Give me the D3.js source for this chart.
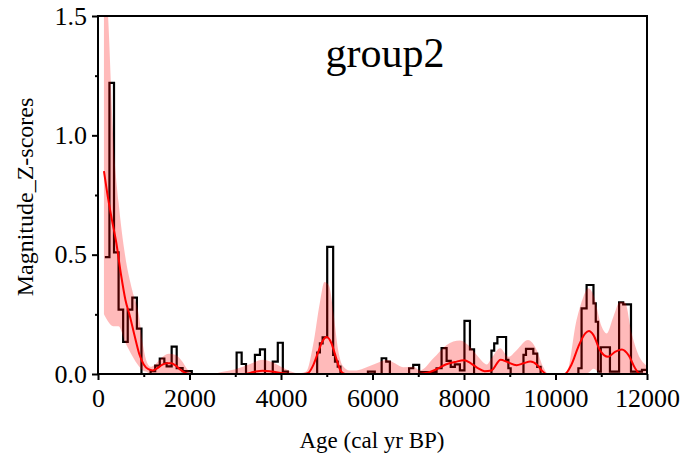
<!DOCTYPE html>
<html><head><meta charset="utf-8">
<script src="https://cdn.jsdelivr.net/npm/d3@7"></script>
<style>body{margin:0;background:#fff}svg{display:block}text{font-family:"Liberation Serif","Times New Roman",serif;fill:#000}</style>
</head><body>
<script>
// ---- data ----
const title = "group2";
const xLabel = "Age (cal yr BP)";
const yLabel = "Magnitude_Z-scores";
const xMajorTicks = [0, 2000, 4000, 6000, 8000, 10000, 12000];
const xMinorTicks = [1000, 3000, 5000, 7000, 9000, 11000];
const yMajorTicks = [0, 0.5, 1.0, 1.5];
const yMinorTicks = [0.25, 0.75, 1.25];

// histogram steps: bin left edge (yr) and value
const histEdges = [150,250,350,450,550,650,750,850,950,1150,1250,1350,1450,1500,1610,1720,1850,2050,
  3030,3140,3235,3430,3540,3650,3820,3930,4040,4150,
  4790,4850,4910,5010,5140,5180,5240,5300,
  5900,6050,6200,6300,6380,6800,6890,7020,7400,7510,7620,7710,7800,7910,8010,8130,8220,
  8600,8660,8730,8920,8970,9020,9300,9355,9515,9600,9675,
  10500,10570,10680,10830,10880,10930,10990,11190,11390,11480,11650,11890,12000];
const histValues = [0.49,1.22,0.51,0.27,0.135,0.27,0.32,0.19,0,0.012,0.035,0.065,0.045,0.032,0.115,0.025,0.012,0,
  0.09,0.042,0,0.08,0.103,0,0.052,0.131,0.01,0,
  0.09,0.128,0.154,0.533,0.08,0.052,0.031,0,
  0.01,0,0.066,0.052,0,0.024,0.038,0.008,0.024,0.108,0.055,0.03,0.04,0.015,0.223,0.103,0,
  0.098,0.128,0.155,0.059,0.024,0,0.08,0.105,0.085,0.03,0,
  0.024,0.275,0.373,0.296,0.219,0.01,0.112,0.01,0.3,0.292,0.01,0.017,0.017];

// smoothed curve
const curveAges = [130,200,300,400,500,600,700,800,900,1000,1100,1200,1300,1400,1500,1600,1700,1800,1900,2000,
  3200,3400,3600,3800,4000,4200,4500,4600,4700,4800,4900,5000,5100,5200,5300,5400,
  7000,7200,7400,7600,7800,8000,8150,8300,8450,8600,8800,8950,9150,9300,9450,9600,9700,9800,
  10200,10350,10500,10650,10730,10830,10970,11150,11300,11450,11600,11740,11850,12000];
const curveValues = [0.85,0.76,0.65,0.55,0.42,0.31,0.24,0.16,0.085,0.04,0.02,0.015,0.025,0.038,0.045,0.045,0.035,0.018,0.006,0,
  0,0.008,0.014,0.01,0.004,0,0,0.005,0.035,0.085,0.135,0.155,0.13,0.07,0.015,0,
  0,0.005,0.02,0.04,0.05,0.058,0.045,0.025,0.012,0.015,0.06,0.05,0.037,0.045,0.052,0.038,0.015,0,
  0,0.04,0.115,0.17,0.18,0.163,0.1,0.072,0.093,0.103,0.078,0.024,0,0];

// confidence band
const bandAges = [130,220,330,450,590,750,890,980,1050,1150,1250,1400,1550,1700,1850,1950,2100,2500,2700,3000,3300,3600,3800,4000,4200,4400,
  4550,4700,4850,4950,5050,5150,5250,5350,5500,5650,5870,6090,6310,6490,6670,6890,7040,7330,7620,7910,8130,8310,8500,8600,8790,8970,9150,9400,9590,9730,9850,
  10240,10460,10610,10720,10830,11010,11120,11265,11410,11520,11665,11850,11960,12000];
const bandUpper = [1.75,1.5,1.0,0.72,0.5,0.35,0.25,0.125,0.06,0.03,0.04,0.07,0.085,0.08,0.05,0.02,0.003,0,0.008,0.02,0.04,0.06,0.05,0.03,0.012,0.003,
  0.01,0.12,0.30,0.385,0.37,0.25,0.1,0.035,0.015,0.015,0.028,0.045,0.06,0.045,0.028,0.03,0.015,0.066,0.122,0.14,0.114,0.072,0.04,0.066,0.108,0.072,0.1,0.142,0.1,0.03,0,
  0.005,0.226,0.324,0.359,0.331,0.198,0.17,0.24,0.303,0.3,0.17,0.066,0.04,0.035];
const bandLower = [0.25,0.22,0.2,0.2,0.135,0.075,0.033,0.015,0.01,0,0,0,0,0,0,0,0,0,0,0,0,0,0,0,0,0,
  0,0,0,0,0,0,0,0,0,0,0,0,0,0,0,0,0,0,0,0,0,0,0,0,0,0,0,0,0,0,0,
  0,0,0,0.005,0.022,0,0,0,0,0,0,0,0,0];

// ---- drawing ----
const W = 692, H = 467;
const m = {left: 98, right: 647, top: 16, bottom: 374};
const x = d3.scaleLinear().domain([0, 12000]).range([m.left, m.right]);
const y = d3.scaleLinear().domain([0, 1.5]).range([m.bottom, m.top]);

const svg = d3.select("body").append("svg").attr("width", W).attr("height", H);
svg.append("defs").append("clipPath").attr("id", "clip")
  .append("rect").attr("x", m.left).attr("y", m.top).attr("width", m.right - m.left).attr("height", m.bottom - m.top);
const g = svg.append("g").attr("clip-path", "url(#clip)");

// histogram step line
const histPts = histEdges.map((e, i) => [e, histValues[i]]);
g.append("path")
  .attr("d", d3.line().x(d => x(d[0])).y(d => y(d[1])).curve(d3.curveStepAfter)(histPts))
  .attr("fill", "none").attr("stroke", "#000").attr("stroke-width", 2.2);

// band
const bandPts = bandAges.map((a, i) => ({a, lo: bandLower[i], hi: bandUpper[i]}));
g.append("path")
  .attr("d", d3.area().x(d => x(d.a)).y0(d => y(d.lo)).y1(d => y(d.hi)).curve(d3.curveMonotoneX)(bandPts))
  .attr("fill", "rgba(255,0,0,0.27)").attr("stroke", "none");

// smoothed curve
const curvePts = curveAges.map((a, i) => [a, curveValues[i]]);
g.append("path")
  .attr("d", d3.line().x(d => x(d[0])).y(d => y(d[1])).curve(d3.curveMonotoneX)(curvePts))
  .attr("fill", "none").attr("stroke", "#ff0000").attr("stroke-width", 2);

// frame
svg.append("rect").attr("x", m.left).attr("y", m.top).attr("width", m.right - m.left).attr("height", m.bottom - m.top)
  .attr("fill", "none").attr("stroke", "#000").attr("stroke-width", 2);

// axes
const fmtY = d3.format(".1f");
const xAxis = svg.append("g").attr("transform", `translate(0,${m.bottom})`)
  .call(d3.axisBottom(x).tickValues(xMajorTicks).tickSize(6).tickPadding(9).tickFormat(d3.format("d")));
const xMinor = svg.append("g").attr("transform", `translate(0,${m.bottom})`)
  .call(d3.axisBottom(x).tickValues(xMinorTicks).tickSize(3).tickFormat(""));
const yAxis = svg.append("g").attr("transform", `translate(${m.left},0)`)
  .call(d3.axisLeft(y).tickValues(yMajorTicks).tickSize(6).tickPadding(5).tickFormat(fmtY));
const yMinor = svg.append("g").attr("transform", `translate(${m.left},0)`)
  .call(d3.axisLeft(y).tickValues(yMinorTicks).tickSize(3).tickFormat(""));
[xAxis, xMinor, yAxis, yMinor].forEach(a => {
  a.select(".domain").remove();
  a.selectAll("line").attr("stroke", "#000").attr("stroke-width", 2);
  a.selectAll("text").attr("font-family", '"Liberation Serif",serif').attr("font-size", 26).attr("fill", "#000");
});

// labels
svg.append("text").attr("x", 385).attr("y", 67).attr("text-anchor", "middle").attr("font-size", 42).text(title);
svg.append("text").attr("x", 372).attr("y", 448).attr("text-anchor", "middle").attr("font-size", 23).text(xLabel);
svg.append("text").attr("transform", "translate(33,197) rotate(-90)").attr("text-anchor", "middle").attr("font-size", 24).text(yLabel);
</script>
</body></html>
